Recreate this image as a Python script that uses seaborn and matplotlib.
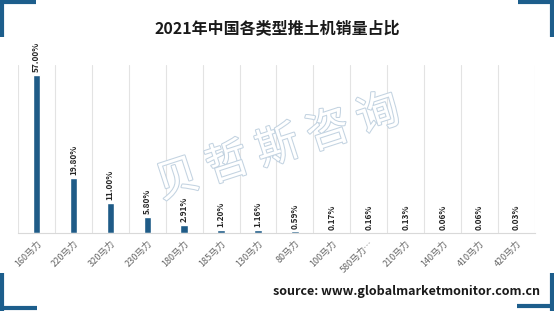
import numpy as np
import pandas as pd
import matplotlib
matplotlib.use("Agg")
import matplotlib.pyplot as plt
import matplotlib.patheffects as pe
from matplotlib.lines import Line2D
import seaborn as sns

# === Data ===
categories = ["160马力", "220马力", "320马力", "230马力", "180马力", "185马力", "130马力",
              "80马力", "100马力", "580马力…", "210马力", "140马力", "410马力", "420马力"]
shares = [57.00, 19.80, 11.00, 5.80, 2.91, 1.20, 1.16, 0.59, 0.17, 0.16, 0.13, 0.06, 0.06, 0.03]
df = pd.DataFrame({"type": categories, "share": shares})

sns.set_theme(style="white")
plt.rcParams["font.family"] = ["Noto Sans CJK SC", "DejaVu Sans"]

bar_color = "#1f5b87"
frame_color = "#1d5e8c"

fig = plt.figure(figsize=(5.54, 3.11), dpi=100)
ax = fig.add_axes([18 / 554, 1 - 233 / 311, 517 / 554, 168 / 311])

sns.barplot(data=df, x="type", y="share", color=bar_color, width=0.2, saturation=1, ax=ax)
ax.set_xlim(-0.5, len(categories) - 0.5)
ax.set_ylim(0, 60.6)

# vertical gridlines between categories
for i in range(len(categories) + 1):
    ax.axvline(i - 0.5, color="#e3e3e3", lw=0.8, zorder=0)
for s in ["top", "right", "left"]:
    ax.spines[s].set_visible(False)
ax.spines["bottom"].set_color("#d9d9d9")
ax.spines["bottom"].set_linewidth(0.8)

ax.set_yticks([])
ax.set_xlabel("")
ax.set_ylabel("")
ax.tick_params(axis="x", length=0, pad=4)
ax.set_xticks(range(len(categories)))
ax.set_xticklabels(categories, rotation=45, ha="right", rotation_mode="anchor",
                   fontsize=6.5, color="#666666")

# value labels
for i, v in enumerate(shares):
    ax.text(i, v + 1.0, f"{v:.2f}%", rotation=90, ha="center", va="bottom",
            fontsize=6, fontweight="bold", color="#262626")

# title and source
fig.text(0.5, 1 - 28 / 311, "2021年中国各类型推土机销量占比", ha="center", va="center",
         fontsize=11.5, fontweight="bold", color="#1a1a1a")
fig.text(540 / 554, 1 - 291 / 311, "source: www.globalmarketmonitor.com.cn", ha="right",
         va="center", fontsize=9, fontweight="bold", color="#1a1a1a")

# watermark
fig.text(278 / 554, 1 - 148 / 311, "贝 哲 斯 咨 询", ha="center", va="center", fontsize=31,
         rotation=18, color="white",
         path_effects=[pe.withStroke(linewidth=1.5, foreground="#c3d3e1")], zorder=0.5)

# corner brackets
W, H = 554, 311
def seg(x0, y0, x1, y1):
    fig.add_artist(Line2D([x0 / W, x1 / W], [1 - y0 / H, 1 - y1 / H],
                          color=frame_color, lw=3, solid_capstyle="butt"))

seg(2, 0, 2, 37); seg(0, 1.5, 36, 1.5)
seg(552, 0, 552, 37); seg(518, 1.5, 554, 1.5)
seg(2, 273, 2, 311); seg(0, 308, 37, 308)
seg(552, 273, 552, 311); seg(517, 306, 554, 306)

fig.savefig("out.png", dpi=100)
